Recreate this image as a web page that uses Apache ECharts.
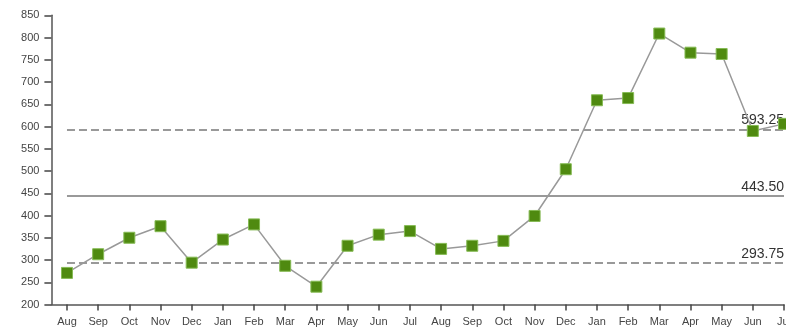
<!DOCTYPE html>
<html>
<head>
<meta charset="utf-8">
<script src="https://cdn.jsdelivr.net/npm/echarts@6/dist/echarts.min.js"></script>
<style>
  html, body { margin: 0; padding: 0; background: #fff; }
  #chart { width: 786px; height: 330px; }
</style>
</head>
<body>
<div id="chart"></div>
<script>
// Month labels along the bottom axis
const months = ['Aug','Sep','Oct','Nov','Dec','Jan','Feb','Mar','Apr','May','Jun','Jul',
                'Aug','Sep','Oct','Nov','Dec','Jan','Feb','Mar','Apr','May','Jun','Jul'];
// Monthly values
const values = [271, 313, 350, 376, 294, 346, 380, 287, 240, 332, 357, 365,
                325, 332, 343, 399, 504, 659, 664, 809, 766, 763, 590, 606];
// Reference levels: upper band, mean, lower band
const upperLevel = 593.25;
const meanLevel = 443.50;
const lowerLevel = 293.75;
// Vertical axis range
const yMin = 200, yMax = 850, yStep = 50;

const idx = months.map((_, i) => i);
const points = values.map((v, i) => [i, v]);
const last = months.length - 1;

function levelLine(v, type) {
  return [
    { coord: [0, v], value: v, lineStyle: { type: type } },
    { coord: [last, v] }
  ];
}

const chart = echarts.init(document.getElementById('chart'));
chart.setOption({
  animation: false,
  textStyle: { fontFamily: 'Liberation Sans, Arial, sans-serif' },
  grid: { left: 51.4, right: 2, top: 15.3, bottom: 25.5, outerBoundsMode: 'none', containLabel: false },
  xAxis: {
    type: 'value',
    min: -0.5,
    max: last,
    splitLine: { show: false },
    axisLine: { show: true, onZero: false, lineStyle: { color: '#555', width: 1.5 } },
    axisTick: { show: true, length: 6, customValues: idx, lineStyle: { color: '#444', width: 1.5 } },
    axisLabel: {
      customValues: idx,
      formatter: v => months[Math.round(v)],
      color: '#444', fontSize: 11, margin: 12
    }
  },
  yAxis: {
    type: 'value',
    min: yMin, max: yMax, interval: yStep,
    splitLine: { show: false },
    axisLine: { show: true, onZero: false, lineStyle: { color: '#555', width: 1.5 } },
    axisTick: { show: true, length: 7, lineStyle: { color: '#444', width: 1.5 } },
    axisLabel: { color: '#444', fontSize: 11, margin: 12 }
  },
  series: [{
    type: 'line',
    data: points,
    symbol: 'rect',
    symbolSize: 11,
    lineStyle: { color: '#999', width: 1.5 },
    itemStyle: { color: '#4f8a10', borderColor: '#86bb55', borderWidth: 1 },
    z: 3,
    markLine: {
      silent: true,
      symbol: 'none',
      z: 2,
      lineStyle: { color: '#999', width: 1.8 },
      label: {
        show: true,
        position: 'insideEndTop',
        distance: [0, 2],
        color: '#333',
        fontSize: 14,
        formatter: p => Number(p.value).toFixed(2)
      },
      data: [
        levelLine(upperLevel, [8, 4]),
        levelLine(meanLevel, 'solid'),
        levelLine(lowerLevel, [8, 4])
      ]
    }
  }]
});
</script>
</body>
</html>
